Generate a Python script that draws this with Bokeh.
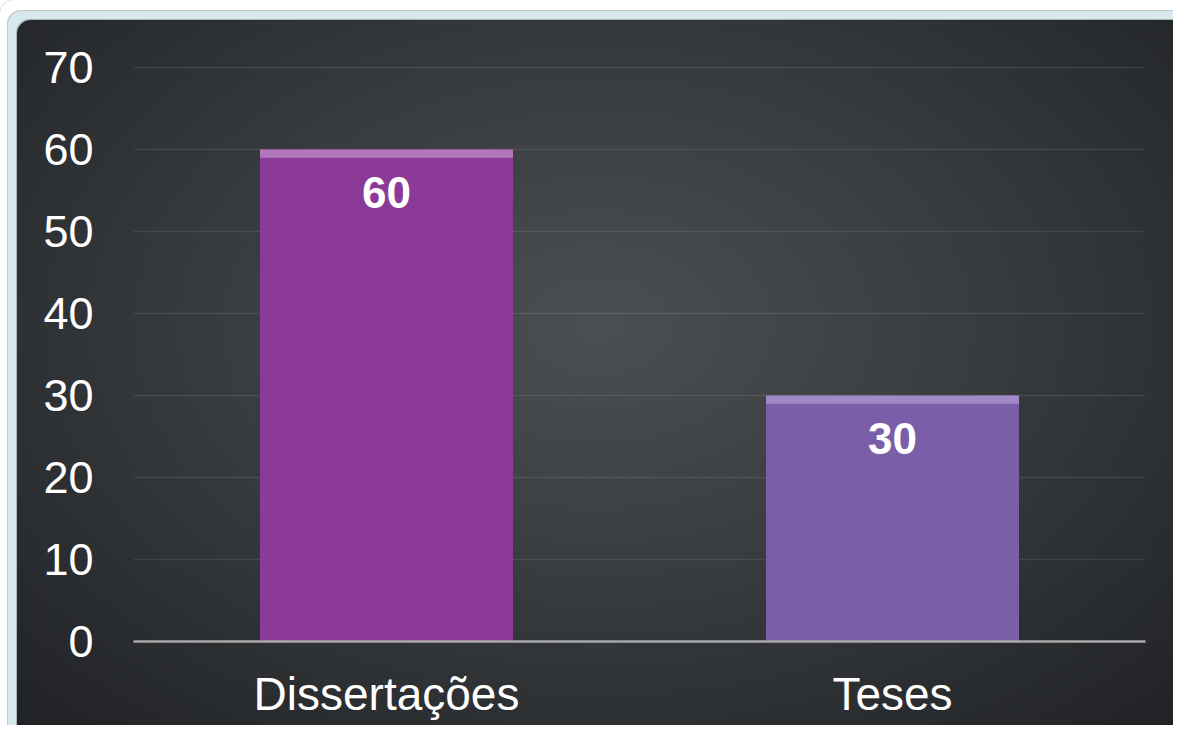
from bokeh.plotting import figure
from bokeh.models import ColumnDataSource, LabelSet, Range1d, FixedTicker
from bokeh.core.properties import value
from bokeh.embed import file_html
from bokeh.resources import INLINE

categories = ["Dissertações", "Teses"]
values = [60, 30]
bar_colors = ["#8b3a97", "#7b5ea8"]
bevel_colors = ["#c391cb", "#b29ad3"]
labels = ["60", "30"]
y_ticks = [0, 10, 20, 30, 40, 50, 60, 70]

FONT = "Liberation Sans"

p = figure(
    x_range=categories,
    y_range=Range1d(0, 70.6),
    width=1173, height=725,
    output_backend="svg",
    toolbar_location=None,
    min_border_left=133, min_border_right=28,
    min_border_top=62, min_border_bottom=84,
    styles={
        "border-radius": "14px 0 0 0",
        "background": "radial-gradient(ellipse at 51% 45%, #4c4f52 0%, #393c3f 45%, #1f2124 100%)",
        "box-shadow": ("inset 7px 10px 0 0 #ffffff, inset 8px 11px 0 0 #bfcbcf, "
                       "inset 16px 19px 0 0 #d8e9ed, inset 17px 20px 0 0 #a9b6ba"),
    },
)
p.border_fill_alpha = 0
p.background_fill_alpha = 0
p.outline_line_color = None

src = ColumnDataSource(dict(cat=categories, val=values, color=bar_colors,
                            bevel=bevel_colors, lab=labels,
                            bevel_bottom=[v - 1.0 for v in values]))

# main bars
p.vbar(x="cat", top="val", bottom=0, width=0.5, source=src,
       fill_color="color", line_color=None)
# bevel highlight at the top of each bar
p.vbar(x="cat", top="val", bottom="bevel_bottom", width=0.5, source=src,
       fill_color="bevel", fill_alpha=0.7, line_color=None)

lbl = LabelSet(x="cat", y="val", text="lab", source=src,
               text_align="center", text_baseline="top", y_offset=-28,
               text_color="white", text_font=value(FONT), text_font_size="44px",
               text_font_style="bold")
p.add_layout(lbl)

# axes
p.yaxis.ticker = FixedTicker(ticks=y_ticks)
p.yaxis.axis_line_color = None
p.yaxis.major_tick_line_color = None
p.yaxis.minor_tick_line_color = None
p.yaxis.major_label_text_color = "white"
p.yaxis.major_label_text_font = FONT
p.yaxis.major_label_text_font_size = "45px"
p.yaxis.major_label_standoff = 34

p.xaxis.axis_line_color = "#a9a9a9"
p.xaxis.axis_line_width = 2.5
p.xaxis.major_tick_line_color = None
p.xaxis.minor_tick_line_color = None
p.xaxis.major_label_text_color = "white"
p.xaxis.major_label_text_font = FONT
p.xaxis.major_label_text_font_size = "46px"
p.xaxis.major_label_standoff = 20

p.xgrid.grid_line_color = None
p.ygrid.grid_line_color = "white"
p.ygrid.grid_line_alpha = 0.09
p.ygrid.grid_line_width = 1.5

open("out.html", "w").write(file_html(p, INLINE))
